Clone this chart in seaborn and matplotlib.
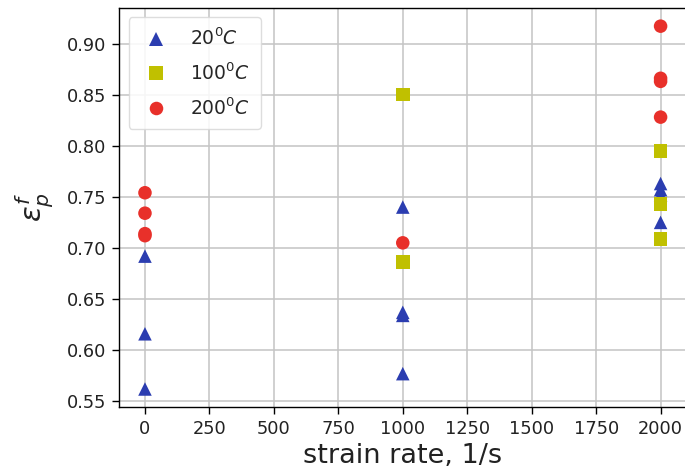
import numpy as np
import pandas as pd
import matplotlib
matplotlib.use("Agg")
import matplotlib.pyplot as plt
import seaborn as sns
from matplotlib.ticker import MultipleLocator

# Fracture strain measured at each strain rate, grouped by test temperature
rate_20 = [0, 0, 0, 1000, 1000, 1000, 1000, 2000, 2000, 2000, 2000]
eps_20 = [0.692, 0.616, 0.562, 0.740, 0.637, 0.634, 0.577, 0.763, 0.757, 0.752, 0.725]

rate_100 = [1000, 1000, 2000, 2000, 2000]
eps_100 = [0.850, 0.686, 0.795, 0.743, 0.709]

rate_200 = [0, 0, 0, 0, 1000, 2000, 2000, 2000, 2000]
eps_200 = [0.754, 0.734, 0.714, 0.712, 0.705, 0.917, 0.866, 0.863, 0.828]

labels = [r"$20^0C$", r"$100^0C$", r"$200^0C$"]
colors = ["#2b3db0", "#c0c000", "#e8302a"]
markers = ["^", "s", "o"]

frames = []
for lab, r, e in zip(labels, [rate_20, rate_100, rate_200], [eps_20, eps_100, eps_200]):
    frames.append(pd.DataFrame({"rate": r, "eps": e, "T": lab}))
df = pd.concat(frames, ignore_index=True)

sns.set_style("whitegrid")
plt.rcParams["font.family"] = ["DejaVu Sans"]

fig = plt.figure(figsize=(6.85, 4.75), dpi=100)
ax = fig.add_axes([0.174, 0.143, 0.828, 0.840])

sns.scatterplot(data=df, x="rate", y="eps", hue="T", style="T",
                hue_order=labels, style_order=labels,
                palette=dict(zip(labels, colors)),
                markers=dict(zip(labels, markers)),
                s=95, linewidth=0, ax=ax, zorder=3)

ax.set_xlim(-100, 2100)
ax.set_ylim(0.5443, 0.9347)
ax.set_xticks(np.arange(0, 2001, 250))
ax.yaxis.set_major_locator(MultipleLocator(0.05))
ax.yaxis.set_major_formatter(matplotlib.ticker.FormatStrFormatter("%.2f"))

ax.grid(True, color="#c4c4c4", linewidth=1.1)
for sp in ax.spines.values():
    sp.set_color("black")
    sp.set_linewidth(1.0)
ax.spines["right"].set_visible(False)
ax.tick_params(axis="both", which="major", labelsize=12.8, length=5,
               width=1.0, color="black", direction="out",
               bottom=True, left=True, labelcolor="#222222", pad=4)

ax.set_xlabel("strain rate, 1/s", fontsize=19.5, color="#222222", labelpad=4)
ax.set_ylabel(r"$\varepsilon_p^f$", fontsize=21, color="#222222", labelpad=8)

leg = ax.legend(loc="upper left", fontsize=13.5, frameon=True,
                borderpad=0.55, labelspacing=0.7, handletextpad=0.95,
                handlelength=1.8, markerscale=1.0,
                bbox_to_anchor=(0.0, 1.0))
leg.get_frame().set_edgecolor("#d8d8d8")
leg.get_frame().set_facecolor("white")
leg.get_frame().set_alpha(0.85)

fig.savefig("out.png", dpi=100)
